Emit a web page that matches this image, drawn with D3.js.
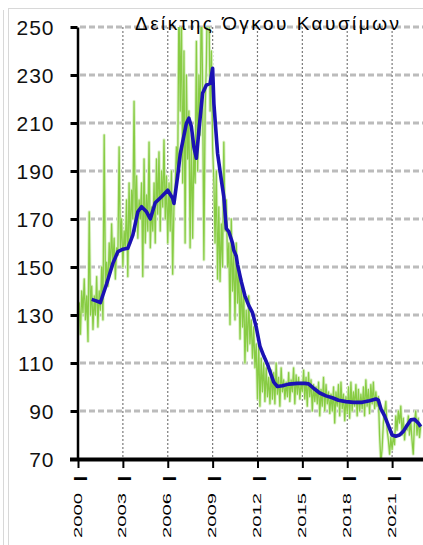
<!DOCTYPE html>
<html><head><meta charset="utf-8">
<script src="https://cdn.jsdelivr.net/npm/d3@7"></script>
<style>html,body{margin:0;padding:0;background:#fff;} svg{display:block;}</style>
</head><body>
<svg id="chart" width="423" height="545"></svg>
<script>
const title = "Δείκτης Όγκου Καυσίμων";
const yTicks = [70, 90, 110, 130, 150, 170, 190, 210, 230, 250];
const xTickYears = [2000, 2003, 2006, 2009, 2012, 2015, 2018, 2021];
const xTickLabels = ["2000 I", "2003 I", "2006 I", "2009 I", "2012 I", "2015 I", "2018 I", "2021 I"];
const startMonth = "2000-01";
// monthly index values, Jan 2000 .. Dec 2022
const monthlyValues = [
  128,135,122,140,131,145,128,138,119,173,130,142,
  124,138,130,146,125,140,132,150,128,205,142,152,
  142,160,148,168,150,162,145,158,155,200,158,170,
  150,165,158,178,146,185,160,182,170,219,165,188,
  162,178,170,185,146,195,160,180,165,202,158,175,
  165,185,160,195,172,198,165,190,175,203,170,188,
  160,185,165,190,147,175,182,200,190,262,215,255,
  185,240,160,230,195,215,158,205,162,200,185,244,
  190,230,205,268,225,153,215,235,270,260,215,240,
  200,185,160,190,145,175,144,168,150,202,165,178,
  150,160,126,170,140,155,128,160,135,150,120,145,
  125,140,110,132,115,138,118,128,112,125,108,118,
  95,118,92,112,98,110,94,108,96,104,93,107,
  95,106,93,110,97,104,92,108,98,103,95,102,
  96,106,94,103,98,108,93,105,97,104,95,102,
  98,107,95,104,92,106,96,103,90,101,94,100,
  93,102,88,99,92,104,90,101,93,98,89,97,
  90,100,85,98,92,101,88,102,91,97,86,96,
  89,100,87,102,90,98,92,101,88,99,90,97,
  91,100,88,103,92,99,89,101,93,102,91,98,
  92,96,80,69,74,85,90,94,82,78,72,79,
  74,80,76,88,82,90,85,92,80,87,78,84,
  82,88,80,86,78,72,85,90,80,87,79,84
];
// 12-month moving average (blue), read at selected months
const trendMonths = ["2000-12","2001-03","2001-07","2001-12","2002-05","2002-09","2003-01","2003-05","2003-09",
  "2004-01","2004-04","2004-08","2004-11","2005-03","2005-08","2006-01","2006-05","2006-06","2006-09","2006-11",
  "2007-04","2007-06","2007-08","2007-10","2007-12","2008-02","2008-05","2008-08","2008-11","2009-01","2009-02",
  "2009-05","2009-08","2009-10","2009-12","2010-02","2010-05","2010-06","2010-08","2010-09","2010-12","2011-03",
  "2011-06","2011-09","2011-12","2012-03","2012-06","2012-09","2012-12","2013-02","2013-05","2013-09","2014-02",
  "2014-09","2015-03","2015-06","2015-10","2016-03","2016-08","2017-01","2017-06","2017-12","2018-06","2019-01",
  "2019-07","2019-12","2020-02","2020-04","2020-07","2020-10","2021-01","2021-04","2021-07","2021-10","2022-01",
  "2022-04","2022-07","2022-10","2022-12"];
const trendValues = [136.5,136,135.2,143,151.5,156.4,157.4,157.8,163.3,
  173,175.1,173,170,176.8,179.3,182,178.6,176.5,188,197,
  209.9,212,208.5,200,195.3,207,222.4,225.8,226.5,232.8,218,
  197.4,186.3,179.3,166,164.7,160,157,154.5,151,144,138,
  134,131,125,117,113,109.5,105,102,100.2,100.5,101.2,
  101.5,101.5,101.3,99.5,97.5,96.3,95.5,94.5,93.9,93.6,93.6,
  94.3,95,94.5,91,88,84,80,79.5,80,81.5,84,
  86.3,86.5,85,83.5];

const parse = d3.timeParse("%Y-%m");
const W = 423, H = 545;
const plot = {left: 78, right: 422, top: 27, bottom: 459};
const svg = d3.select("#chart");
const FONT = "Liberation Sans, Arial, sans-serif";

const x = d3.scaleTime().domain([new Date(2000,0,1), new Date(2023,0,1)]).range([plot.left, plot.right]);
const y = d3.scaleLinear().domain([70, 250]).range([plot.bottom, plot.top]);

const start = parse(startMonth);
const monthly = monthlyValues.map((v, i) => ({date: d3.timeMonth.offset(start, i), value: v}));
const trend = trendMonths.map((m, i) => ({date: parse(m), value: trendValues[i]}));

// frame
svg.append("line").attr("x1",3.5).attr("x2",3.5).attr("y1",10).attr("y2",H).attr("stroke","#d8d8d8");
svg.append("line").attr("x1",8.5).attr("x2",8.5).attr("y1",8).attr("y2",H).attr("stroke","#d8d8d8");
svg.append("line").attr("x1",8).attr("x2",W).attr("y1",8.5).attr("y2",8.5).attr("stroke","#d8d8d8");

// horizontal gridlines
svg.append("g").selectAll("line").data(yTicks.filter(t => t !== 70)).join("line")
  .attr("x1", plot.left + 2).attr("x2", W)
  .attr("y1", d => y(d)).attr("y2", d => y(d))
  .attr("stroke", "#bcbcbc").attr("stroke-width", 3).attr("stroke-dasharray", "6,3");

// vertical gridlines
svg.append("g").selectAll("line").data(xTickYears.filter(t => t !== 2000)).join("line")
  .attr("x1", d => x(new Date(d,0,1))).attr("x2", d => x(new Date(d,0,1)))
  .attr("y1", plot.top).attr("y2", plot.bottom)
  .attr("stroke", "#7a7a7a").attr("stroke-width", 1.2).attr("stroke-dasharray", "2,2");

// clip
svg.append("clipPath").attr("id","clip").append("rect")
  .attr("x", plot.left).attr("y", plot.top).attr("width", W - plot.left).attr("height", plot.bottom - plot.top);

const line = d3.line().x(d => x(d.date)).y(d => y(d.value));
const g = svg.append("g").attr("clip-path","url(#clip)");
g.append("path").datum(monthly).attr("d", line).attr("fill","none")
  .attr("stroke","#dcf1c8").attr("stroke-width",3.2).attr("stroke-linejoin","round");
g.append("path").datum(monthly).attr("d", line).attr("fill","none")
  .attr("stroke","#88cc44").attr("stroke-width",1.3).attr("stroke-linejoin","round");
g.append("path").datum(trend).attr("d", line).attr("fill","none")
  .attr("stroke","#1b12b3").attr("stroke-width",3.6).attr("stroke-linejoin","round");

// title
svg.append("text").attr("x", 267).attr("y", 30).attr("text-anchor","middle")
  .attr("font-family",FONT).attr("font-size",19)
  .attr("textLength",264).attr("lengthAdjust","spacing").attr("fill","#000").text(title);

// y axis
const yAxis = svg.append("g").attr("transform", `translate(${plot.left - 0.5},0)`)
  .call(d3.axisLeft(y).tickValues(yTicks).tickSize(7).tickSizeOuter(0).tickFormat(d3.format("d")));
yAxis.select(".domain").attr("stroke","#000").attr("stroke-width",2.5);
yAxis.selectAll(".tick line").attr("stroke","#000").attr("stroke-width",3);
yAxis.selectAll(".tick text").attr("x",-23).attr("dy","0.35em")
  .attr("font-family",FONT).attr("font-size",21)
  .attr("letter-spacing",1).attr("fill","#111");

// x axis
const xAxis = svg.append("g").attr("transform", `translate(0,${plot.bottom})`)
  .call(d3.axisBottom(x).tickValues(xTickYears.map(yr => new Date(yr,0,1))).tickSize(9).tickSizeOuter(0).tickFormat(""));
xAxis.select(".domain").remove();
xAxis.selectAll(".tick line").attr("stroke","#000").attr("stroke-width",2);
svg.append("line").attr("x1",70).attr("x2",W).attr("y1",plot.bottom+0.5).attr("y2",plot.bottom+0.5)
  .attr("stroke","#000").attr("stroke-width",4);

const labels = svg.append("g").selectAll("g").data(xTickYears).join("g");
labels.each(function(yr, i) {
  const tx = x(new Date(yr,0,1));
  const parts = xTickLabels[i].split(" ");
  const gl = d3.select(this);
  gl.append("text").attr("transform", `translate(${tx + 3.5},538) rotate(-90)`)
    .attr("text-anchor","start").attr("font-family",FONT)
    .attr("font-size",11.5).attr("textLength",45).attr("lengthAdjust","spacingAndGlyphs")
    .attr("fill","#000").text(parts[0]);
  gl.append("text").attr("transform", `translate(${tx + 8.5},478.5) rotate(-90)`)
    .attr("text-anchor","middle").attr("font-family",FONT).attr("font-weight","bold")
    .attr("font-size",19).attr("fill","#000").text(parts[1]);
});
</script>
</body></html>
